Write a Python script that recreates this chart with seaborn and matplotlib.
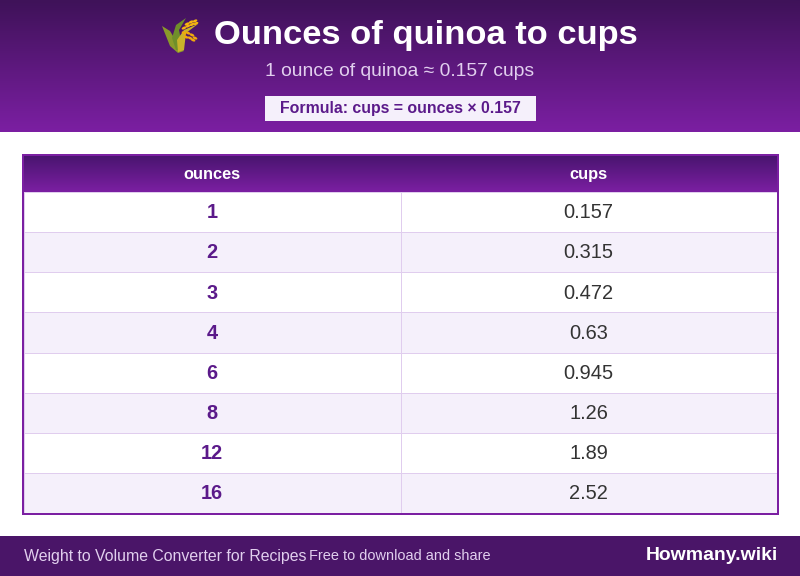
import numpy as np
import seaborn as sns
import matplotlib.pyplot as plt
from matplotlib.colors import LinearSegmentedColormap, ListedColormap
from matplotlib.patches import Polygon, Rectangle, Ellipse

ounces = [1, 2, 3, 4, 6, 8, 12, 16]
cups = [0.157, 0.315, 0.472, 0.63, 0.945, 1.26, 1.89, 2.52]
col_names = ["ounces", "cups"]
titulo = "Ounces of quinoa to cups"
subtitulo = "1 ounce of quinoa ≈ 0.157 cups"
formula = "Formula: cups = ounces × 0.157"

W, H = 800, 576
ROXO = "#7b1fa2"
sns.set_theme(style="white")
plt.rcParams["font.family"] = ["Liberation Sans", "DejaVu Sans"]

fig = plt.figure(figsize=(W / 100, H / 100), dpi=100)
bg = fig.add_axes([0, 0, 1, 1])
bg.axis("off")

grad = LinearSegmentedColormap.from_list("g", ["#3f1259", ROXO])
grad2 = LinearSegmentedColormap.from_list("g2", ["#4a1570", ROXO])
rampa = np.linspace(0, 1, 64).reshape(-1, 1)

# faixa do topo
bg.imshow(rampa, cmap=grad, extent=(0, W, 132, 0), aspect="auto", zorder=1)
bg.text(426, 35.5, titulo, color="white", fontsize=24.8, fontweight="bold", ha="center", va="center", zorder=3)
bg.text(399.5, 71, subtitulo, color="#e1cfee", fontsize=13.9, ha="center", va="center", zorder=3)
bg.add_patch(Rectangle((265, 96), 271, 25, fc="#f5f0fb", ec="none", zorder=2))
bg.text(400.5, 108.5, formula, color="#5b1a8a", fontsize=11.4, fontweight="bold", ha="center", va="center", zorder=3)

# icone do trigo
bg.add_patch(Polygon([(162, 26), (170, 31), (176, 41), (184, 51), (178, 53), (170, 46), (166, 36)], fc="#8a9a2a", ec="none", zorder=3))
bg.add_patch(Polygon([(176, 50), (172, 38), (176, 25), (186, 18), (179, 30), (183, 50)], fc="#6f8f2a", ec="none", zorder=3))
bg.add_patch(Polygon([(178, 52), (177, 40), (184, 30), (198, 24), (186, 33), (184, 50)], fc="#c9b32a", ec="none", zorder=3))
for cx, cy in [(184, 28), (188, 26), (192, 24.5), (196, 23.5), (187, 24), (191, 22), (195, 21)]:
    bg.add_patch(Ellipse((cx, cy), 5, 2.6, angle=-25, fc="#f5b50f", ec="none", zorder=4))
for cx, cy in [(184, 33), (188, 33), (192, 35), (195, 38), (186, 37), (190, 38), (193, 40)]:
    bg.add_patch(Ellipse((cx, cy), 5, 2.6, angle=25, fc="#f0a90c", ec="none", zorder=4))

# tabela
bg.add_patch(Rectangle((23, 155), 755, 359, fc="white", ec=ROXO, lw=1.44, zorder=1))
bg.imshow(rampa, cmap=grad2, extent=(24, 777, 192, 156), aspect="auto", zorder=2)
bg.set_xlim(0, W)
bg.set_ylim(H, 0)
bg.text(211.5, 174.5, col_names[0], color="white", fontsize=11.8, fontweight="bold", ha="center", va="center", zorder=3)
bg.text(588, 174.5, col_names[1], color="white", fontsize=11.8, fontweight="bold", ha="center", va="center", zorder=3)

n = len(ounces)
listras = np.array([[i % 2, i % 2] for i in range(n)])
rotulos = np.array([[str(o), str(c)] for o, c in zip(ounces, cups)])
ax = fig.add_axes([24 / W, 1 - 513 / H, 753 / W, 321 / H])
sns.heatmap(listras, ax=ax, cmap=ListedColormap(["white", "#f5f0fb"]), cbar=False,
            annot=rotulos, fmt="", linewidths=0.72, linecolor="#e0cdee",
            xticklabels=False, yticklabels=False)
for k, t in enumerate(ax.texts):
    t.set_fontsize(14.4)
    t.set_y(t.get_position()[1] + 0.02)
    if k % 2 == 0:
        t.set_color("#5b1a8a")
        t.set_fontweight("bold")
    else:
        t.set_color("#333333")

# rodape
bg.add_patch(Rectangle((0, 536), W, 40, fc="#4a1568", ec="none", zorder=1))
bg.text(24, 556, "Weight to Volume Converter for Recipes", color="#e1cfee", fontsize=11.45, ha="left", va="center", zorder=3)
bg.text(309, 556, "Free to download and share", color="#e1cfee", fontsize=10.45, ha="left", va="center", zorder=3)
bg.text(778, 555.5, "Howmany.wiki", color="white", fontsize=13.95, fontweight="bold", ha="right", va="center", zorder=3)

fig.savefig("out.png", dpi=100)
